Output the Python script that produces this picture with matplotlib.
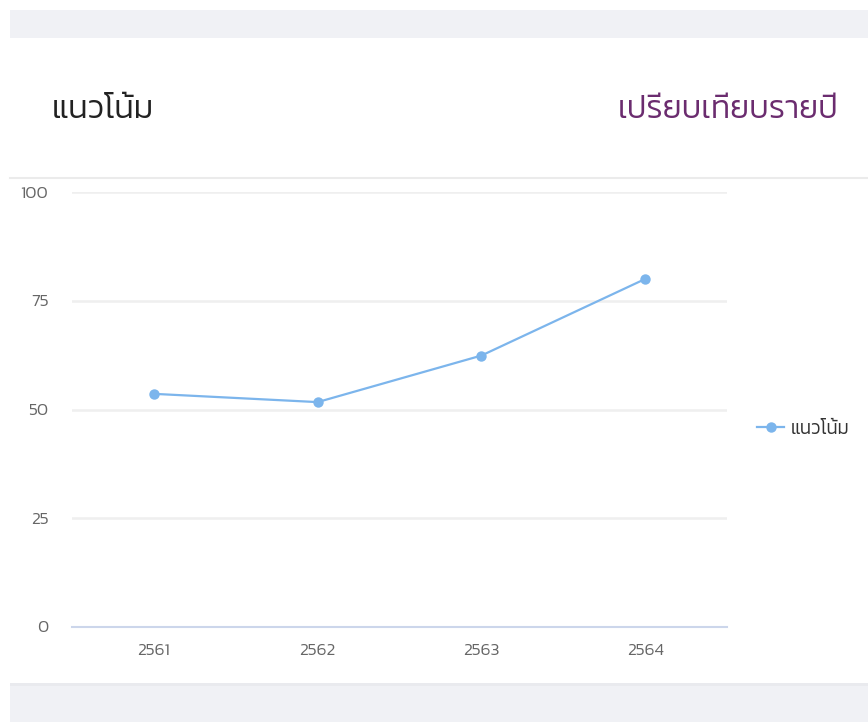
import matplotlib
matplotlib.use("Agg")
import matplotlib.pyplot as plt
from matplotlib import font_manager
from matplotlib.ft2font import FT2Font
from matplotlib.patches import Rectangle
from matplotlib.lines import Line2D

# ---- data ----
years = ["2561", "2562", "2563", "2564"]
trend = [53.6, 51.7, 62.4, 80.0]
y_ticks = [0, 25, 50, 75, 100]
series_name = "แนวโน้ม"
title_left = "แนวโน้ม"
title_right = "เปรียบเทียบรายปี"

# ---- find a font with Thai glyphs ----
thai_family = None
cands = []
for f in font_manager.fontManager.ttflist:
    try:
        cm = FT2Font(f.fname).get_charmap()
    except Exception:
        continue
    if 0x0E41 in cm and 0x0E49 in cm:
        cands.append(f.name)
pref = ["Kanit", "Prompt", "Sarabun", "Noto Sans Thai", "Noto Sans Thai UI", "Loma", "Garuda", "Tlwg Typo", "Waree"]
for p in pref:
    if p in cands:
        thai_family = p
        break
if thai_family is None and cands:
    thai_family = sorted(cands)[0]
families = ([thai_family] if thai_family else []) + ["DejaVu Sans"]
plt.rcParams["font.family"] = families

W, H = 868, 722
fig = plt.figure(figsize=(W / 100, H / 100), dpi=100)
fig.patch.set_facecolor("white")

def fx(px):
    return px / W

def fy(py):
    return 1 - py / H

WT = 300

# background bands
fig.patches.append(Rectangle((fx(10), fy(38)), fx(858), 28 / H, transform=fig.transFigure,
                             facecolor="#f0f1f5", edgecolor="none", zorder=0))
fig.patches.append(Rectangle((fx(10), 0), fx(858), 39 / H, transform=fig.transFigure,
                             facecolor="#f0f1f5", edgecolor="none", zorder=0))
fig.patches.append(Rectangle((fx(10), fy(686)), fx(858), 3 / H, transform=fig.transFigure,
                             facecolor="#e9eaee", edgecolor="none", zorder=0))
# separator
fig.lines.append(Line2D([fx(10), 1], [fy(177.5), fy(177.5)], transform=fig.transFigure,
                        color="#ebebeb", linewidth=1.5))

# titles
fig.text(fx(52), fy(110), title_left, fontsize=23.5, color="#222222", ha="left", va="center",
         fontweight=WT)
fig.text(fx(838), fy(110), title_right, fontsize=23, color="#6b2c6f", ha="right", va="center",
         fontweight=WT)

ax = fig.add_axes([fx(72), fy(627), fx(727 - 72), (627 - 192) / H])
x = list(range(len(years)))
ax.plot(x, trend, color="#7cb5ec", linewidth=1.6, marker="o", markersize=7.5,
        markeredgewidth=0, label=series_name, zorder=3, clip_on=False)
ax.set_xlim(-0.5, len(years) - 0.5)
ax.set_ylim(0, 100)
ax.set_yticks(y_ticks)
ax.set_xticks(x)
ax.set_xticklabels(years)
for s in ["top", "right", "left"]:
    ax.spines[s].set_visible(False)
ax.spines["bottom"].set_color("#ccd6eb")
ax.spines["bottom"].set_linewidth(1.5)
ax.grid(axis="y", color="#efefef", linewidth=1.8)
ax.set_axisbelow(True)
ax.tick_params(axis="both", length=0, labelsize=12.5, colors="#666666")
ax.tick_params(axis="y", pad=17)
ax.tick_params(axis="x", pad=12.5)
for lab in ax.get_xticklabels() + ax.get_yticklabels():
    lab.set_color("#666666")
    lab.set_fontweight(WT)

leg = fig.legend(handles=[Line2D([0], [0], color="#7cb5ec", linewidth=1.6, marker="o",
                                 markersize=7.5, markeredgewidth=0)],
                 labels=[series_name], loc="center left",
                 bbox_to_anchor=(fx(757), fy(429)), frameon=False,
                 fontsize=13.5, handlelength=1.45, handletextpad=0.33,
                 borderaxespad=0, borderpad=0)
for t in leg.get_texts():
    t.set_color("#333333")
    t.set_fontweight(WT)

fig.savefig("out.png", dpi=100, facecolor="white")
